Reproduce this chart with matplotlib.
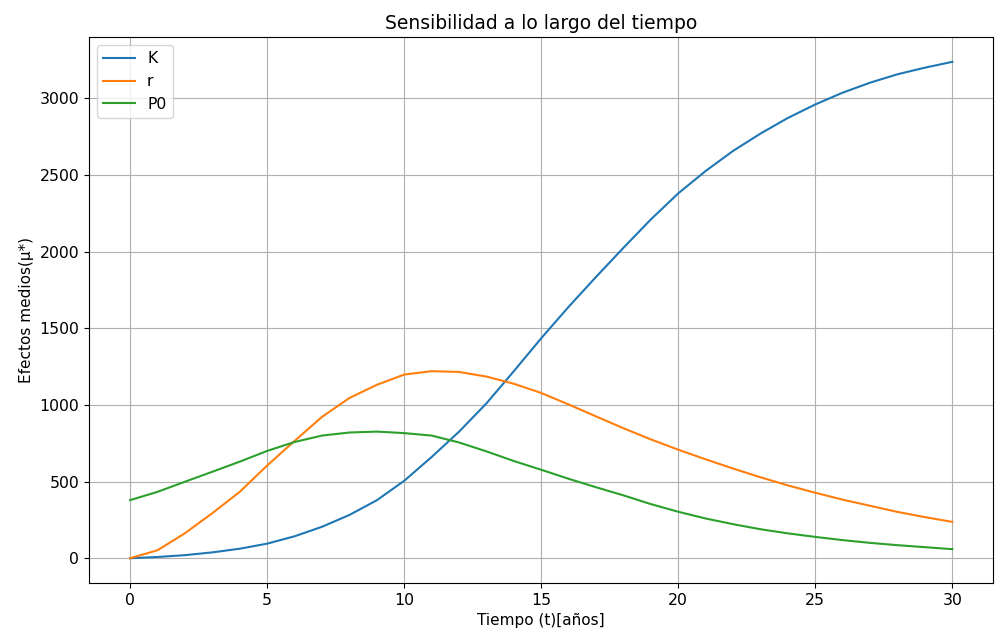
import matplotlib
matplotlib.use("Agg")
import matplotlib.pyplot as plt

t = list(range(31))
K = [0, 8, 20, 38, 62, 95, 143, 205, 282, 378, 505, 660, 825, 1010, 1220, 1435,
     1640, 1835, 2025, 2210, 2380, 2526, 2657, 2770, 2872, 2960, 3037, 3102, 3157, 3200, 3238]
r = [0, 52, 163, 294, 433, 605, 765, 922, 1045, 1131, 1198, 1220, 1215, 1185, 1138, 1078,
     1003, 925, 848, 775, 708, 645, 585, 528, 475, 427, 382, 342, 302, 268, 237]
P0 = [379, 433, 499, 564, 630, 700, 758, 800, 820, 826, 816, 800, 755, 697, 634, 577,
      518, 463, 410, 353, 303, 259, 222, 189, 162, 139, 118, 100, 85, 72, 59]

fig = plt.figure(figsize=(9.96, 6.34), dpi=100)
ax = fig.add_axes([0.0894, 0.0804, 0.908, 0.8612])
ax.plot(t, K, label="K")
ax.plot(t, r, label="r")
ax.plot(t, P0, label="P0")
ax.set_title("Sensibilidad a lo largo del tiempo", fontsize=13.5)
ax.set_xlabel("Tiempo (t)[años]", fontsize=11)
ax.set_ylabel("Efectos medios(μ*)", fontsize=11)
ax.tick_params(labelsize=11.3)
ax.grid(True)
ax.legend(loc="upper left", fontsize=11.3)
fig.savefig("out.png", dpi=100)
